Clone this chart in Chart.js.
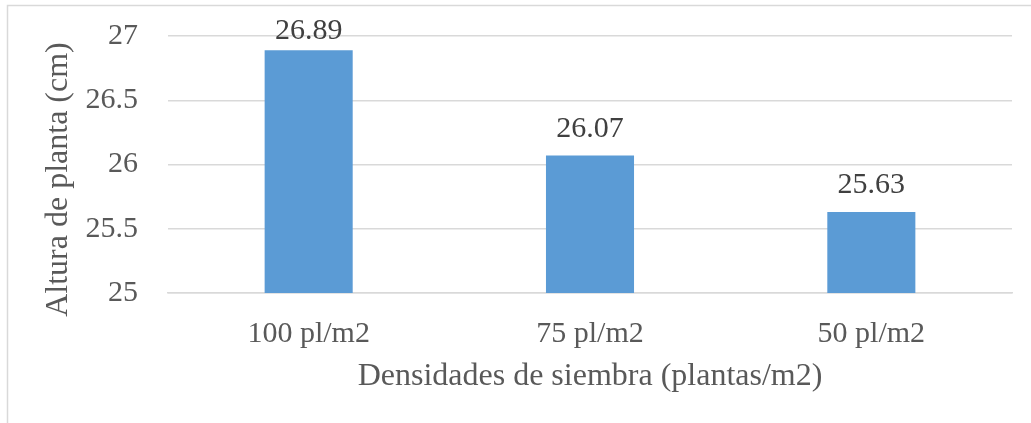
<!DOCTYPE html>
<html>
<head>
<meta charset="utf-8">
<script src="https://cdn.jsdelivr.net/npm/chart.js@4"></script>
<style>
html,body{margin:0;padding:0;background:#fff;}
#wrap{position:relative;width:1031px;height:423px;}
</style>
</head>
<body>
<div id="wrap"><canvas id="c" width="1031" height="423"></canvas></div>
<script>
const categories = ["100 pl/m2", "75 pl/m2", "50 pl/m2"];
const alturaValues = [26.89, 26.07, 25.63];
const yTicks = [25, 25.5, 26, 26.5, 27];
const xTitle = "Densidades de siembra (plantas/m2)";
const yTitle = "Altura de planta (cm)";

const FONT = "'Liberation Serif', 'Times New Roman', serif";

const frame = {
  id: 'frame',
  beforeDraw(chart) {
    const ctx = chart.ctx;
    ctx.save();
    ctx.fillStyle = '#ffffff';
    ctx.fillRect(0, 0, chart.width, chart.height);
    ctx.strokeStyle = '#d9d9d9';
    ctx.lineWidth = 1.5;
    ctx.beginPath();
    ctx.moveTo(7.5, chart.height);
    ctx.lineTo(7.5, 5.5);
    ctx.lineTo(chart.width, 5.5);
    ctx.stroke();
    ctx.restore();
  }
};

const yAxisTitle = {
  id: 'yAxisTitle',
  afterDraw(chart) {
    const ctx = chart.ctx;
    const area = chart.chartArea;
    ctx.save();
    ctx.font = "32px " + FONT;
    ctx.fillStyle = '#595959';
    ctx.textAlign = 'center';
    ctx.textBaseline = 'middle';
    ctx.translate(59, (area.top + area.bottom) / 2 + 15);
    ctx.rotate(-Math.PI / 2);
    ctx.fillText(yTitle, 0, 0);
    ctx.restore();
  }
};

const valueLabels = {
  id: 'valueLabels',
  afterDatasetsDraw(chart) {
    const ctx = chart.ctx;
    const meta = chart.getDatasetMeta(0);
    ctx.save();
    ctx.font = "30px " + FONT;
    ctx.fillStyle = '#404040';
    ctx.textAlign = 'center';
    ctx.textBaseline = 'alphabetic';
    meta.data.forEach((bar, i) => {
      const v = chart.data.datasets[0].data[i];
      let y = bar.y - 19;
      if (y < 39) y = 39;
      ctx.fillText(v.toFixed(2), bar.x, y);
    });
    ctx.restore();
  }
};

new Chart(document.getElementById('c'), {
  type: 'bar',
  data: {
    labels: categories,
    datasets: [{
      data: alturaValues,
      backgroundColor: '#5b9bd5',
      borderWidth: 0,
      barPercentage: 0.313,
      categoryPercentage: 1.0
    }]
  },
  options: {
    responsive: false,
    animation: false,
    devicePixelRatio: 1,
    layout: { padding: { left: 0, right: 19, top: 36, bottom: 0 } },
    plugins: { legend: { display: false }, tooltip: { enabled: false } },
    scales: {
      x: {
        grid: { display: false, drawTicks: false },
        border: { display: true, color: '#d9d9d9', width: 1.5 },
        ticks: { color: '#595959', font: { family: FONT, size: 30 }, padding: 23 },
        title: { display: true, text: xTitle, color: '#595959', font: { family: FONT, size: 32 }, padding: { top: 0, bottom: 27 } },
        afterFit(scale) { scale.height = 130; scale.paddingLeft = 0; scale.paddingRight = 0; }
      },
      y: {
        min: 25, max: 27,
        afterBuildTicks(scale) { scale.ticks = yTicks.map(v => ({ value: v })); },
        grid: { color: '#d9d9d9', lineWidth: 1.5, drawTicks: false },
        border: { display: false },
        ticks: { color: '#595959', font: { family: FONT, size: 30 }, padding: 30, callback: v => String(v) },
        title: { display: false },
        afterFit(scale) { scale.width = 168; scale.paddingTop = 0; scale.paddingBottom = 0; }
      }
    }
  },
  plugins: [frame, yAxisTitle, valueLabels]
});
</script>
</body>
</html>
